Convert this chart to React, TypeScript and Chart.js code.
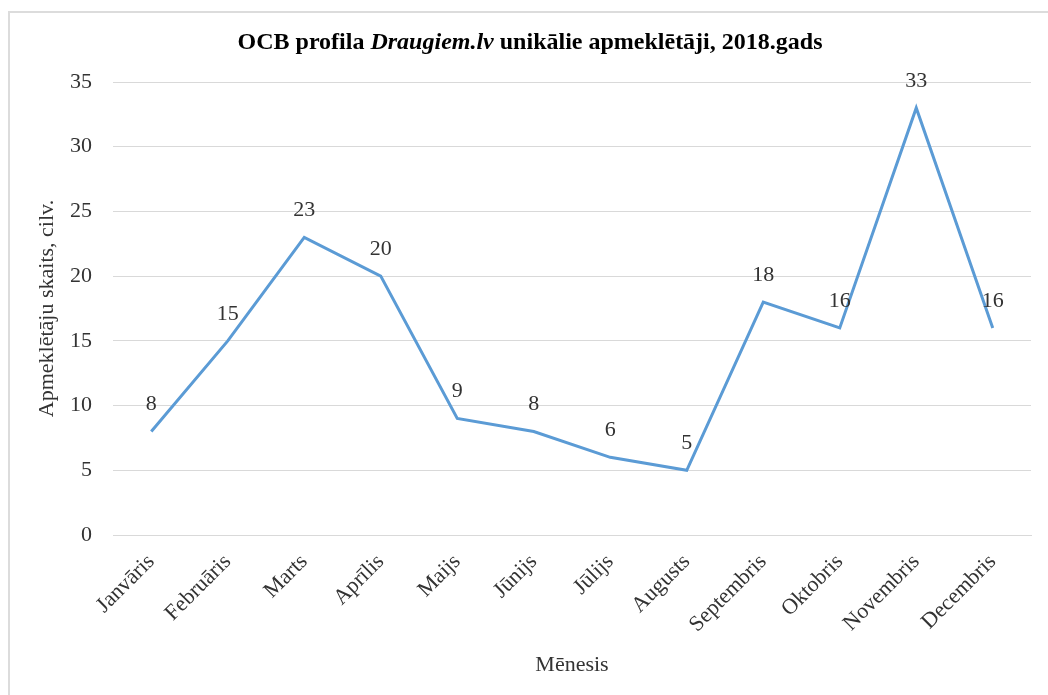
import React, { useEffect, useRef } from "react";
import { Chart, registerables } from "chart.js";

Chart.register(...registerables);

const months: string[] = [
  "Janvāris", "Februāris", "Marts", "Aprīlis", "Maijs", "Jūnijs",
  "Jūlijs", "Augusts", "Septembris", "Oktobris", "Novembris", "Decembris",
];
const visitors: number[] = [8, 15, 23, 20, 9, 8, 6, 5, 18, 16, 33, 16];
const titleParts: { text: string; italic: boolean }[] = [
  { text: "OCB profila ", italic: false },
  { text: "Draugiem.lv", italic: true },
  { text: " unikālie apmeklētāji, 2018.gads", italic: false },
];
const yAxisTitle = "Apmeklētāju skaits, cilv.";
const xAxisTitle = "Mēnesis";
const yMin = 0;
const yMax = 35;
const yStep = 5;

const SERIF = "'Liberation Serif', 'Times New Roman', serif";
const TEXT = "#333333";

const titlePlugin = {
  id: "mixedTitle",
  afterDraw(chart: any) {
    const ctx = chart.ctx as CanvasRenderingContext2D;
    ctx.save();
    ctx.fillStyle = "#000";
    ctx.textBaseline = "middle";
    ctx.textAlign = "left";
    const fontFor = (italic: boolean) => `${italic ? "italic " : ""}bold 24px ${SERIF}`;
    let total = 0;
    for (const p of titleParts) {
      ctx.font = fontFor(p.italic);
      total += ctx.measureText(p.text).width;
    }
    let x = 530 - total / 2;
    const y = 43;
    for (const p of titleParts) {
      ctx.font = fontFor(p.italic);
      ctx.fillText(p.text, x, y);
      x += ctx.measureText(p.text).width;
    }
    ctx.restore();
  },
};

const labelPlugin = {
  id: "pointLabels",
  afterDatasetsDraw(chart: any) {
    const ctx = chart.ctx as CanvasRenderingContext2D;
    const meta = chart.getDatasetMeta(0);
    const data = chart.data.datasets[0].data as number[];
    ctx.save();
    ctx.font = `22px ${SERIF}`;
    ctx.fillStyle = TEXT;
    ctx.textAlign = "center";
    ctx.textBaseline = "middle";
    meta.data.forEach((pt: any, i: number) => {
      ctx.fillText(String(data[i]), pt.x, pt.y - 27);
    });
    ctx.restore();
  },
};

export default function App() {
  const ref = useRef<HTMLCanvasElement>(null);
  useEffect(() => {
    if (!ref.current) return;
    const chart = new Chart(ref.current, {
      type: "line",
      data: {
        labels: months,
        datasets: [
          {
            data: visitors,
            borderColor: "#5B9BD5",
            backgroundColor: "#5B9BD5",
            borderWidth: 3,
            pointRadius: 0,
            tension: 0,
            fill: false,
          },
        ],
      },
      options: {
        animation: false,
        responsive: false,
        devicePixelRatio: 1,
        layout: { padding: { left: 30, right: 17, top: 82, bottom: 13 } },
        plugins: {
          legend: { display: false },
          title: { display: false },
          tooltip: { enabled: false },
        },
        scales: {
          x: {
            offset: true,
            grid: { display: false, drawTicks: false },
            border: { display: true, color: "#d9d9d9", width: 1 },
            ticks: {
              minRotation: 45,
              maxRotation: 45,
              padding: 14,
              color: TEXT,
              font: { family: SERIF, size: 22 },
              autoSkip: false,
            },
            title: {
              display: true,
              text: xAxisTitle,
              color: TEXT,
              font: { family: SERIF, size: 22 },
              padding: { top: 4, bottom: 4 },
            },
            afterFit(scale: any) {
              scale.height = 147;
            },
          },
          y: {
            min: yMin,
            max: yMax,
            grid: { color: "#d9d9d9", lineWidth: 1, drawTicks: false },
            border: { display: false },
            ticks: {
              stepSize: yStep,
              padding: 21,
              color: TEXT,
              font: { family: SERIF, size: 22 },
            },
            title: {
              display: true,
              text: yAxisTitle,
              color: TEXT,
              font: { family: SERIF, size: 22 },
              padding: { top: 4, bottom: 4 },
            },
            afterFit(scale: any) {
              scale.width = 83;
            },
          },
        },
      },
      plugins: [titlePlugin, labelPlugin],
    });
    return () => chart.destroy();
  }, []);

  return (
    <div style={{ position: "fixed", left: 0, top: 0, width: 1048, height: 695, background: "#fff", overflow: "hidden" }}>
      <div
        style={{
          position: "absolute",
          left: 8,
          top: 11,
          width: 1100,
          height: 750,
          border: "2px solid #dcdcdc",
          boxSizing: "border-box",
        }}
      />
      <canvas ref={ref} width={1048} height={695} style={{ position: "absolute", left: 0, top: 0, width: 1048, height: 695 }} />
    </div>
  );
}
